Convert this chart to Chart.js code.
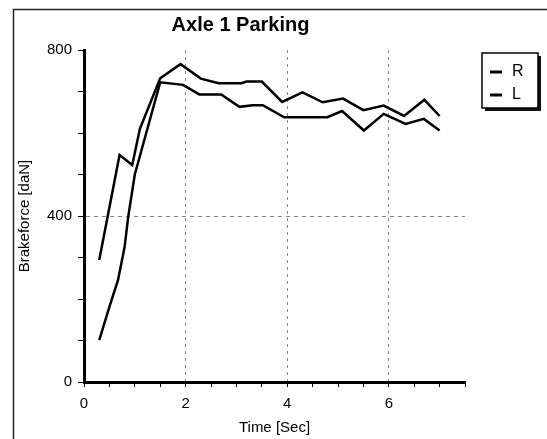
<!DOCTYPE html>
<html>
<head>
<meta charset="utf-8">
<script src="https://cdn.jsdelivr.net/npm/chart.js@4/dist/chart.umd.min.js"></script>
<style>
  html, body { margin: 0; padding: 0; background: #fff; }
  canvas { display: block; }
</style>
</head>
<body>
<canvas id="brakeChart" width="547" height="439"></canvas>
<script>
// R side
const timeR = [0.3, 0.7, 0.95, 1.1, 1.5, 1.9, 2.3, 2.65, 3.1, 3.2, 3.5, 3.9, 4.3, 4.7, 5.1, 5.5, 5.9, 6.3, 6.7, 7.0];
const forceR = [294, 547, 523, 610, 732, 766, 731, 720, 720, 724, 724, 675, 698, 674, 683, 655, 666, 641, 680, 641];
// L side
const timeL = [0.3, 0.5, 0.67, 0.8, 0.87, 1.0, 1.5, 1.95, 2.27, 2.7, 3.06, 3.32, 3.52, 3.94, 4.79, 5.08, 5.51, 5.9, 6.33, 6.69, 7.0];
const forceL = [101, 181, 246, 326, 398, 500, 722, 716, 693, 693, 663, 667, 667, 638, 638, 653, 606, 646, 622, 634, 606];

const seriesLabels = ['R', 'L'];
const xTickLabels = [0, 2, 4, 6];
const yTickLabels = [0, 400, 800];

const toPoints = (xs, ys) => xs.map((x, i) => ({ x: x, y: ys[i] }));

Chart.defaults.font.family = '"Liberation Sans", Arial, sans-serif';
Chart.defaults.color = '#000';

// outer frame round the whole chart
const framePlugin = {
  id: 'frame',
  beforeDraw(chart) {
    const c = chart.ctx;
    c.save();
    c.strokeStyle = '#222';
    c.lineWidth = 1.5;
    c.strokeRect(13.5, 9.5, 700, 600);
    c.restore();
  }
};

// boxed legend with a drop shadow, at the top right
const boxLegend = {
  id: 'boxLegend',
  afterDraw(chart) {
    const c = chart.ctx;
    const left = 482, top = 53, w = 56, h = 55;
    c.save();
    c.fillStyle = '#111';
    c.fillRect(left + 3, top + 3, w, h);
    c.fillStyle = '#fff';
    c.fillRect(left, top, w, h);
    c.strokeStyle = '#000';
    c.lineWidth = 1.5;
    c.strokeRect(left, top, w, h);
    c.font = '16px "Liberation Sans", Arial, sans-serif';
    c.textBaseline = 'middle';
    chart.data.datasets.forEach((ds, i) => {
      const y = top + 19 + i * 23;
      c.strokeStyle = ds.borderColor;
      c.lineWidth = 3;
      c.beginPath();
      c.moveTo(left + 8, y);
      c.lineTo(left + 20, y);
      c.stroke();
      c.fillStyle = '#000';
      c.fillText(ds.label, left + 30, y);
    });
    c.restore();
  }
};

const ctx = document.getElementById('brakeChart').getContext('2d');
const brakeChart = new Chart(ctx, {
  type: 'line',
  data: {
    datasets: [{
      label: seriesLabels[0],
      data: toPoints(timeR, forceR),
      borderColor: '#000',
      borderWidth: 2.5,
      pointRadius: 0,
      fill: false
    }, {
      label: seriesLabels[1],
      data: toPoints(timeL, forceL),
      borderColor: '#000',
      borderWidth: 2.5,
      pointRadius: 0,
      fill: false
    }]
  },
  options: {
    responsive: false,
    animation: false,
    layout: {
      padding: { left: 16, top: 6, right: 82, bottom: 2 }
    },
    plugins: {
      legend: { display: false },
      tooltip: { enabled: false },
      title: {
        display: true,
        text: 'Axle 1 Parking',
        font: { size: 20, weight: 'bold' },
        padding: { top: 7, bottom: 13 }
      }
    },
    scales: {
      x: {
        type: 'linear',
        min: 0,
        max: 7.5,
        afterFit(scale) { scale.height = 55; },
        ticks: {
          stepSize: 0.5,
          autoSkip: false,
          maxRotation: 0,
          padding: 8,
          font: { size: 15 },
          callback: v => xTickLabels.includes(v) ? String(v) : ''
        },
        grid: {
          color: c => [2, 4, 6].includes(c.tick && c.tick.value) ? '#888' : 'rgba(0,0,0,0)',
          tickColor: '#000',
          tickLength: 5,
          lineWidth: 1
        },
        border: { color: '#000', width: 3, dash: [3, 4] },
        title: {
          display: true,
          text: 'Time [Sec]',
          font: { size: 15 },
          padding: { top: 0, bottom: 0 }
        }
      },
      y: {
        min: 0,
        max: 800,
        afterFit(scale) { scale.width = 68; },
        ticks: {
          stepSize: 100,
          autoSkip: false,
          padding: 6,
          font: { size: 15 },
          callback: v => yTickLabels.includes(v) ? String(v) : ''
        },
        grid: {
          color: c => (c.tick && c.tick.value === 400) ? '#888' : 'rgba(0,0,0,0)',
          tickColor: '#000',
          tickLength: 6,
          lineWidth: 1
        },
        border: { color: '#000', width: 3, dash: [4, 4] },
        title: {
          display: true,
          text: 'Brakeforce [daN]',
          font: { size: 15 },
          padding: { top: 0, bottom: 0 }
        }
      }
    }
  },
  plugins: [framePlugin, boxLegend]
});
</script>
</body>
</html>
